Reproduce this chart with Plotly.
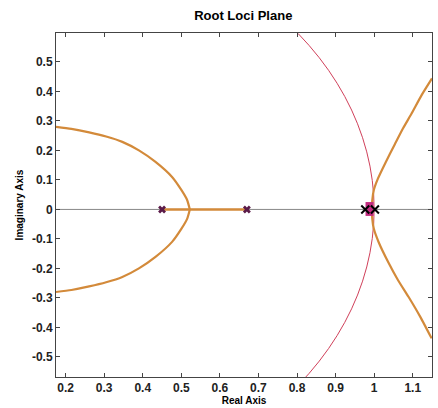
import plotly.graph_objects as go

# ---- data ----
left_upper_x = [0.175, 0.215, 0.261, 0.305, 0.347, 0.39, 0.433, 0.476, 0.50, 0.515, 0.522]
left_upper_y = [0.280, 0.273, 0.261, 0.247, 0.229, 0.200, 0.161, 0.110, 0.066, 0.032, 0.0]
left_lower_x = left_upper_x
left_lower_y = [-v for v in left_upper_y]

real_seg_x = [0.45, 0.67]
real_seg_y = [0.0, 0.0]

right_upper_x = [0.994, 0.995, 0.999, 1.010, 1.030, 1.054, 1.075, 1.097, 1.122, 1.15]
right_upper_y = [0.0, 0.030, 0.065, 0.105, 0.160, 0.222, 0.275, 0.325, 0.385, 0.444]
right_lower_x = [0.994, 0.995, 0.999, 1.012, 1.037, 1.062, 1.089, 1.120, 1.149]
right_lower_y = [0.0, -0.030, -0.065, -0.112, -0.180, -0.240, -0.296, -0.365, -0.437]

poles_x = [0.45, 0.67]
poles_y = [0.0, 0.0]
black_x = [0.977, 1.002]
black_y = [0.0, 0.0]
zero_blob_x = [0.988, 0.988]
zero_blob_y = [-0.022, 0.025]

x_ticks = [0.2, 0.3, 0.4, 0.5, 0.6, 0.7, 0.8, 0.9, 1.0, 1.1]
x_tick_text = ["0.2", "0.3", "0.4", "0.5", "0.6", "0.7", "0.8", "0.9", "1", "1.1"]
y_ticks = [0.5, 0.4, 0.3, 0.2, 0.1, 0.0, -0.1, -0.2, -0.3, -0.4, -0.5]
y_tick_text = ["0.5", "0.4", "0.3", "0.2", "0.1", "0", "-0.1", "-0.2", "-0.3", "-0.4", "-0.5"]

ORANGE = "#D38A3A"
RED = "#D0405A"

fig = go.Figure()

line_style = dict(color=ORANGE, width=2.2, shape="spline", smoothing=0.6)
for xs, ys in [(left_upper_x, left_upper_y), (left_lower_x, left_lower_y),
               (right_upper_x, right_upper_y), (right_lower_x, right_lower_y)]:
    fig.add_trace(go.Scatter(x=xs, y=ys, mode="lines", line=line_style,
                             hoverinfo="skip", showlegend=False))
fig.add_trace(go.Scatter(x=real_seg_x, y=real_seg_y, mode="lines",
                         line=dict(color=ORANGE, width=2.5), showlegend=False))
fig.add_trace(go.Scatter(x=zero_blob_x, y=zero_blob_y, mode="lines",
                         line=dict(color="#C2297F", width=8), showlegend=False))
fig.add_trace(go.Scatter(x=poles_x, y=poles_y, mode="markers",
                         marker=dict(symbol="x", size=7, color="#5A1A48"),
                         showlegend=False))
fig.add_trace(go.Scatter(x=black_x, y=black_y, mode="markers",
                         marker=dict(symbol="x-thin", size=8,
                                     line=dict(color="black", width=2)),
                         showlegend=False))

# unit circle and real axis reference line
fig.add_shape(type="circle", xref="x", yref="y", x0=-1, y0=-1, x1=1, y1=1,
              line=dict(color=RED, width=1), layer="below")
fig.add_shape(type="line", xref="paper", yref="y", x0=0, x1=1, y0=0, y1=0,
              line=dict(color="#888888", width=1), layer="below")

font_b = "Liberation Sans, Arial, sans-serif"
fig.update_layout(
    width=438, height=408,
    margin=dict(l=56, r=6, t=33, b=31, autoexpand=False),
    paper_bgcolor="white", plot_bgcolor="white",
    title=dict(text="<b>Root Loci Plane</b>", x=0.498, xanchor="center",
               xref="paper", y=0.963, yref="container", yanchor="middle",
               automargin=False,
               font=dict(family=font_b, size=13, color="black")),
    showlegend=False,
)
axis_common = dict(showgrid=False, zeroline=False, showline=True, mirror="ticks",
                   linecolor="#444444", linewidth=1, ticks="inside", ticklen=4,
                   tickcolor="#444444", automargin=False,
                   tickfont=dict(family=font_b, size=12, color="#222222", weight="bold"))
fig.update_xaxes(range=[0.175, 1.15], tickvals=x_ticks, ticktext=x_tick_text,
                 title=dict(text="<b>Real Axis</b>", standoff=0,
                            font=dict(family=font_b, size=10, color="black")),
                 **axis_common)
fig.update_yaxes(range=[-0.568, 0.598], tickvals=y_ticks, ticktext=y_tick_text,
                 title=dict(text="<b>Imaginary Axis</b>", standoff=6,
                            font=dict(family=font_b, size=10, color="black")),
                 **axis_common)

fig.write_html("out.html", config={"displayModeBar": False},
               post_script="document.body.style.margin='0';"
                           "document.body.style.overflow='hidden';")
